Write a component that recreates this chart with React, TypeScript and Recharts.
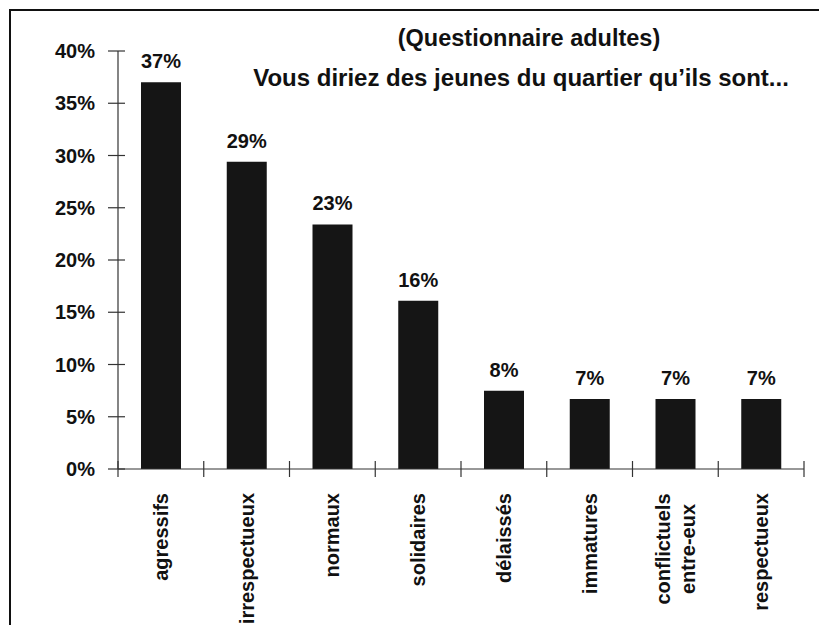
import { BarChart, Bar, XAxis, YAxis, LabelList } from 'recharts';

const categories = [
  'agressifs',
  'irrespectueux',
  'normaux',
  'solidaires',
  'délaissés',
  'immatures',
  'conflictuels entre-eux',
  'respectueux',
];
const percentages = [37.0, 29.4, 23.4, 16.1, 7.5, 6.7, 6.7, 6.7];
const yTicks = [0, 5, 10, 15, 20, 25, 30, 35, 40];
const titleLines = ['(Questionnaire adultes)', 'Vous diriez des jeunes du quartier qu’ils sont...'];

const data = categories.map((name, i) => ({ name, value: percentages[i] }));

const W = 819;
const H = 625;
const PLOT_LEFT = 118;
const PLOT_RIGHT = 804;
const PLOT_TOP = 51;
const PLOT_BOTTOM = 469;
const BAND = (PLOT_RIGHT - PLOT_LEFT) / categories.length;
const FONT = '"Liberation Sans", Arial, sans-serif';
const INK = '#111';

function YTick({ x, y, payload }: any) {
  return (
    <g>
      <line x1={x - 10} x2={x + 7} y1={y} y2={y} stroke="#333" strokeWidth={1.2} />
      <text x={x - 23} y={y} dy="0.35em" textAnchor="end" fontFamily={FONT} fontWeight={700} fontSize={20} fill={INK}>
        {payload.value}%
      </text>
    </g>
  );
}

function XTick({ x, y, payload, index }: any) {
  const lines = String(payload.value).split(' ');
  const left = x - BAND / 2;
  const top = y + 24;
  return (
    <g>
      <line x1={left} x2={left} y1={y - 8} y2={y + 8} stroke="#333" strokeWidth={1.2} />
      {index === categories.length - 1 && (
        <line x1={x + BAND / 2} x2={x + BAND / 2} y1={y - 8} y2={y + 8} stroke="#333" strokeWidth={1.2} />
      )}
      {lines.length === 1 ? (
        <text
          x={x}
          y={top}
          dy="0.35em"
          textAnchor="end"
          transform={`rotate(-90, ${x}, ${top})`}
          fontFamily={FONT}
          fontWeight={700}
          fontSize={20}
          fill={INK}
        >
          {lines[0]}
        </text>
      ) : (
        lines.map((ln, i) => {
          const lx = x + (i - (lines.length - 1) / 2) * 25;
          const cy = top + 56;
          return (
            <text
              key={ln}
              x={lx}
              y={cy}
              dy="0.35em"
              textAnchor="middle"
              transform={`rotate(-90, ${lx}, ${cy})`}
              fontFamily={FONT}
              fontWeight={700}
              fontSize={20}
              fill={INK}
            >
              {ln}
            </text>
          );
        })
      )}
    </g>
  );
}

export default function App() {
  return (
    <div style={{ position: 'absolute', left: 0, top: 0, width: W, height: H, background: '#fff', overflow: 'hidden' }}>
      <div
        style={{
          position: 'absolute',
          left: 9,
          top: 9,
          width: W - 9,
          height: H - 9,
          borderLeft: `2px solid ${INK}`,
          borderTop: `2px solid ${INK}`,
          boxSizing: 'border-box',
        }}
      />
      <BarChart
        width={W}
        height={H}
        data={data}
        margin={{ top: PLOT_TOP, right: W - PLOT_RIGHT, bottom: 0, left: 0 }}
        barSize={40}
      >
        <YAxis
          width={PLOT_LEFT}
          domain={[0, 40]}
          ticks={yTicks}
          interval={0}
          tickLine={false}
          tickSize={0}
          tickMargin={0}
          axisLine={{ stroke: '#333', strokeWidth: 1.2 }}
          tick={<YTick />}
        />
        <XAxis
          dataKey="name"
          interval={0}
          tickLine={false}
          tickSize={0}
          tickMargin={0}
          height={H - PLOT_BOTTOM}
          axisLine={{ stroke: '#333', strokeWidth: 1.2 }}
          tick={<XTick />}
        />
        <Bar dataKey="value" fill="#151515" isAnimationActive={false}>
          <LabelList
            dataKey="value"
            position="top"
            offset={14}
            formatter={(v: any) => `${Math.round(Number(v))}%`}
            style={{ fontFamily: FONT, fontWeight: 700, fontSize: 20, fill: INK }}
          />
        </Bar>
      </BarChart>
      {titleLines.map((t, i) => (
        <div
          key={t}
          style={{
            position: 'absolute',
            left: i === 0 ? 529 - 200 : 521 - 300,
            width: i === 0 ? 400 : 600,
            top: i === 0 ? 27 : 67,
            textAlign: 'center',
            fontFamily: FONT,
            fontWeight: 700,
            fontSize: i === 0 ? 23.5 : 24,
            lineHeight: '22px',
            color: INK,
            whiteSpace: 'nowrap',
          }}
        >
          {t}
        </div>
      ))}
    </div>
  );
}
